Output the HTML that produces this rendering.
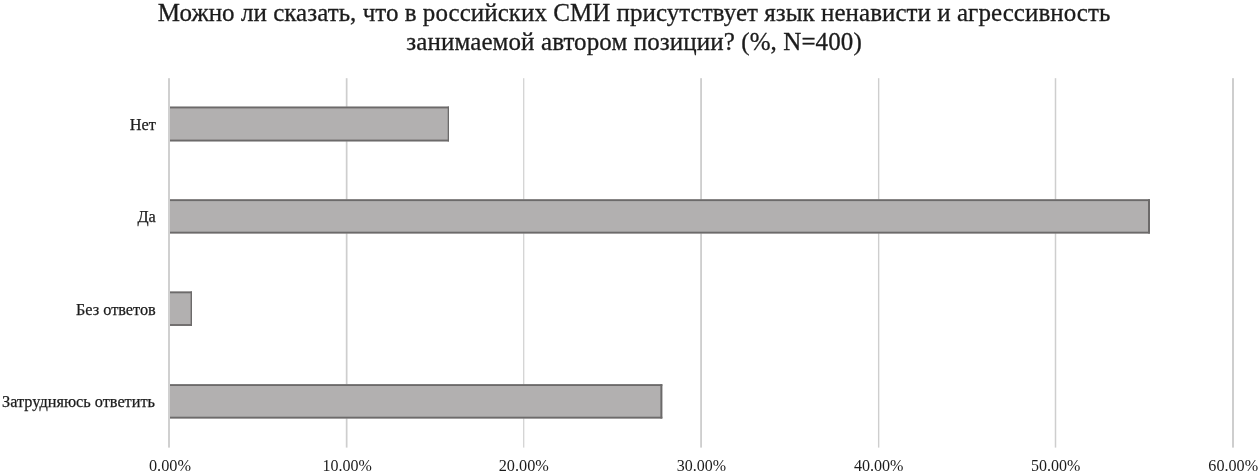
<!DOCTYPE html>
<html lang="ru">
<head>
<meta charset="utf-8">
<title>Chart</title>
<style>
html,body{margin:0;padding:0;background:#fff;}
body{width:1259px;height:472px;position:relative;overflow:hidden;font-family:"Liberation Serif","Times New Roman",serif;color:#1c1c1c;}
.title{position:absolute;left:4.6px;top:-2.3px;width:1259px;text-align:center;font-size:25px;line-height:29.6px;letter-spacing:0.04px;-webkit-text-stroke:0.3px #1c1c1c;}
.title span{display:block;white-space:nowrap;}
.plot{position:absolute;left:0;top:0;}
.cat{position:absolute;right:1104.0px;font-size:16.3px;line-height:20px;white-space:nowrap;text-align:right;-webkit-text-stroke:0.25px #1c1c1c;}
.ax{position:absolute;top:455.7px;width:80px;margin-left:-40px;text-align:center;font-size:16.1px;line-height:20px;white-space:nowrap;}
</style>
</head>
<body>
<div class="title"><span>Можно ли сказать, что в российских СМИ присутствует язык ненависти и агрессивность</span><span style="letter-spacing:0.1px">занимаемой автором позиции? (%, N=400)</span></div>
<svg class="plot" width="1259" height="472" viewBox="0 0 1259 472">
<rect x="345.80" y="78.2" width="1.70" height="369.40" fill="#cecece"/>
<rect x="523.15" y="78.2" width="1.15" height="369.40" fill="#cecece"/>
<rect x="700.15" y="78.2" width="1.85" height="369.40" fill="#cecece"/>
<rect x="877.95" y="78.2" width="1.40" height="369.40" fill="#cecece"/>
<rect x="1054.75" y="78.2" width="1.50" height="369.40" fill="#cecece"/>
<rect x="1232.00" y="78.2" width="2.00" height="369.40" fill="#cecece"/>
<rect x="169" y="106.60" width="280.00" height="34.80" fill="#b2b0b0"/>
<rect x="169" y="106.60" width="280.00" height="1.8" fill="#6c6a6a"/>
<rect x="169" y="139.60" width="280.00" height="1.8" fill="#6c6a6a"/>
<rect x="447.70" y="106.60" width="1.3" height="34.80" fill="#6c6a6a"/>
<rect x="169" y="199.30" width="981.00" height="34.20" fill="#b2b0b0"/>
<rect x="169" y="199.30" width="981.00" height="1.8" fill="#6c6a6a"/>
<rect x="169" y="231.70" width="981.00" height="1.8" fill="#6c6a6a"/>
<rect x="1148.00" y="199.30" width="2.0" height="34.20" fill="#6c6a6a"/>
<rect x="169" y="291.50" width="23.00" height="34.40" fill="#b2b0b0"/>
<rect x="169" y="291.50" width="23.00" height="1.8" fill="#6c6a6a"/>
<rect x="169" y="324.10" width="23.00" height="1.8" fill="#6c6a6a"/>
<rect x="190.60" y="291.50" width="1.4" height="34.40" fill="#6c6a6a"/>
<rect x="169" y="384.20" width="493.30" height="34.30" fill="#b2b0b0"/>
<rect x="169" y="384.20" width="493.30" height="1.8" fill="#6c6a6a"/>
<rect x="169" y="416.70" width="493.30" height="1.8" fill="#6c6a6a"/>
<rect x="660.40" y="384.20" width="1.9" height="34.30" fill="#6c6a6a"/>
<rect x="168.00" y="78.2" width="2.0" height="369.40" fill="#d0d0d0"/>
</svg>
<div class="cat" style="top:115.40px;right:1103.2px">Нет</div>
<div class="cat" style="top:206.80px;right:1103.2px">Да</div>
<div class="cat" style="top:300.10px;right:1103.2px">Без ответов</div>
<div class="cat" style="top:392.10px;right:1104.0px">Затрудняюсь ответить</div>
<div class="ax" style="left:170.00px;font-size:16.3px">0.00%</div>
<div class="ax" style="left:347.15px;font-size:16.0px">10.00%</div>
<div class="ax" style="left:523.75px;font-size:16.25px">20.00%</div>
<div class="ax" style="left:701.30px;font-size:16.0px">30.00%</div>
<div class="ax" style="left:878.70px;font-size:16.1px">40.00%</div>
<div class="ax" style="left:1055.75px;font-size:16.0px">50.00%</div>
<div class="ax" style="left:1233.25px;font-size:16.15px">60.00%</div>
</body>
</html>
